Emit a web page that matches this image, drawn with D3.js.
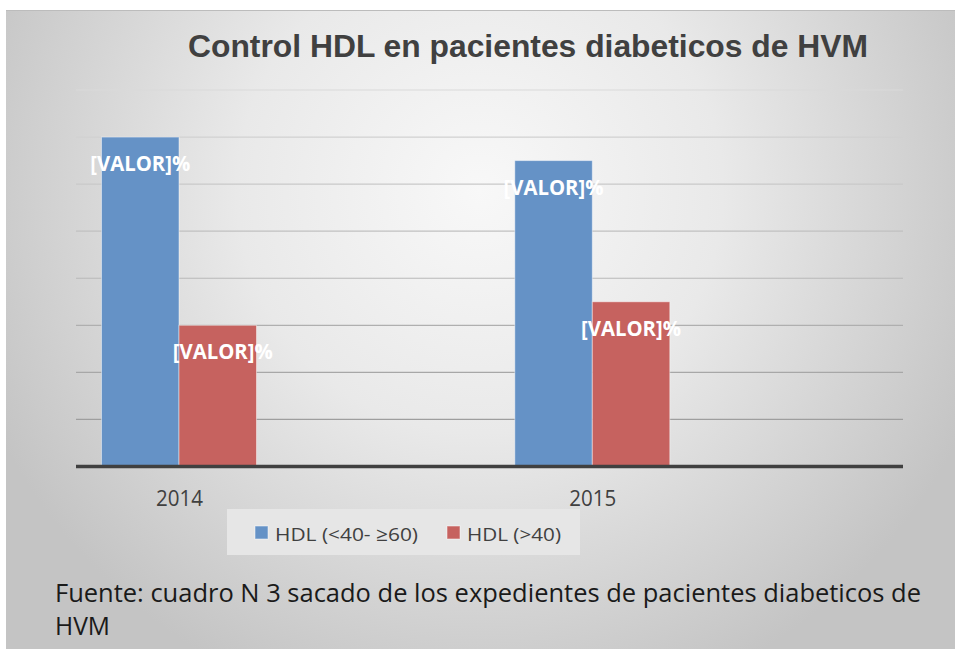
<!DOCTYPE html>
<html>
<head>
<meta charset="utf-8">
<script src="https://cdn.jsdelivr.net/npm/d3@7"></script>
<style>
  body { margin: 0; background: #fff; }
  svg { display: block; }
</style>
</head>
<body>
<svg id="chart" width="955" height="659"></svg>
<script>
// data
const years = ["2014", "2015"];
const seriesNames = ["HDL (<40- ≥60)", "HDL (>40)"];
const hdlLowHigh = [70, 65];
const hdlOver40 = [30, 35];
const yTicks = [0, 10, 20, 30, 40, 50, 60, 70, 80];
const labelText = "[VALOR]%";
const titleText = "Control HDL en pacientes diabeticos de HVM";
const footerLines = [
  "Fuente: cuadro N 3 sacado de los expedientes de pacientes diabeticos de",
  "HVM"
];

const colors = ["#6592c6", "#c6625f"];
const sans = "'Open Sans', 'DejaVu Sans', sans-serif";

const svg = d3.select("#chart");

// background frame with soft radial gradient
const defs = svg.append("defs");
const grad = defs.append("radialGradient")
  .attr("id", "bg")
  .attr("gradientUnits", "userSpaceOnUse")
  .attr("cx", 480).attr("cy", 190).attr("r", 540);
grad.append("stop").attr("offset", 0).attr("stop-color", "#f8f8f8");
grad.append("stop").attr("offset", 0.45).attr("stop-color", "#e9e9e9");
grad.append("stop").attr("offset", 1).attr("stop-color", "#c4c4c4");

svg.append("rect")
  .attr("x", 6).attr("y", 10)
  .attr("width", 949).attr("height", 639)
  .attr("fill", "url(#bg)");
svg.append("line")
  .attr("x1", 6).attr("x2", 955).attr("y1", 10.5).attr("y2", 10.5)
  .attr("stroke", "#bcbcbc");

// scales
const plotLeft = 76, plotRight = 903;
const y = d3.scaleLinear().domain([0, 80]).range([466.5, 90]);
const x = d3.scalePoint().domain(years).range([179, 592.3]);
const xs = d3.scaleBand().domain(seriesNames).range([-77.5, 77.5]);

// gridlines, getting darker toward the bottom
const gridColor = d3.scaleLinear().domain([80, 10]).range(["#dadada", "#9e9e9e"]);
svg.append("g")
  .selectAll("line")
  .data(yTicks.filter(d => d > 0))
  .join("line")
  .attr("x1", plotLeft).attr("x2", plotRight)
  .attr("y1", d => y(d)).attr("y2", d => y(d))
  .attr("stroke", d => gridColor(d))
  .attr("stroke-width", 1.2);

// bars
const rows = [];
years.forEach((yr, i) => {
  rows.push({ year: yr, series: seriesNames[0], value: hdlLowHigh[i], c: colors[0] });
  rows.push({ year: yr, series: seriesNames[1], value: hdlOver40[i], c: colors[1] });
});

svg.append("g")
  .selectAll("rect")
  .data(rows)
  .join("rect")
  .attr("x", d => x(d.year) + xs(d.series))
  .attr("y", d => y(d.value))
  .attr("width", xs.bandwidth())
  .attr("height", d => y(0) - y(d.value))
  .attr("fill", d => d.c)
  .attr("stroke", "rgba(255,255,255,0.45)")
  .attr("stroke-width", 1);

// axis line
const xAxis = d3.axisBottom(x).tickSize(0).tickPadding(0);
const gx = svg.append("g")
  .attr("transform", `translate(0,${y(0)})`)
  .call(xAxis);
gx.select(".domain").remove();
gx.append("line")
  .attr("x1", plotLeft).attr("x2", plotRight)
  .attr("stroke", "#404040").attr("stroke-width", 3.5);
gx.selectAll(".tick text")
  .attr("y", 39)
  .attr("dy", 0)
  .attr("font-family", sans)
  .attr("font-size", 21)
  .attr("fill", "#404040")
  .attr("textLength", 47)
  .attr("lengthAdjust", "spacingAndGlyphs");

// data labels
svg.append("g")
  .selectAll("text")
  .data(rows)
  .join("text")
  .attr("x", d => x(d.year) + xs(d.series) + xs.bandwidth() / 2 + (d.series === seriesNames[1] && d.year === "2014" ? 5 : 0))
  .attr("y", d => y(d.value) + 34)
  .attr("text-anchor", "middle")
  .attr("font-family", sans)
  .attr("font-weight", "bold")
  .attr("font-size", 21)
  .attr("fill", "#ffffff")
  .attr("textLength", 100)
  .attr("lengthAdjust", "spacingAndGlyphs")
  .text(labelText);

// title
svg.append("text")
  .attr("x", 188).attr("y", 57)
  .attr("font-family", "'Liberation Sans', Arial, sans-serif")
  .attr("font-weight", "bold")
  .attr("font-size", 31)
  .attr("fill", "#404040")
  .attr("textLength", 680)
  .attr("lengthAdjust", "spacingAndGlyphs")
  .text(titleText);

// legend
const legend = svg.append("g");
legend.append("rect")
  .attr("x", 227).attr("y", 509)
  .attr("width", 353).attr("height", 46)
  .attr("fill", "#e6e6e6");
const legendX = [255, 447];
const legendW = [143, 94];
seriesNames.forEach((s, i) => {
  legend.append("rect")
    .attr("x", legendX[i]).attr("y", 526)
    .attr("width", 13).attr("height", 13)
    .attr("fill", colors[i])
    .attr("stroke", "rgba(255,255,255,0.5)");
  legend.append("text")
    .attr("x", legendX[i] + 20).attr("y", 541)
    .attr("font-family", sans)
    .attr("font-size", 19)
    .attr("fill", "#404040")
    .attr("textLength", legendW[i])
    .attr("lengthAdjust", "spacingAndGlyphs")
    .text(s);
});

// footer note
svg.append("g")
  .selectAll("text")
  .data(footerLines)
  .join("text")
  .attr("x", 55)
  .attr("y", (d, i) => 602 + i * 33)
  .attr("font-family", sans)
  .attr("font-size", 26)
  .attr("fill", "#1a1a1a")
  .attr("textLength", (d, i) => i === 0 ? 866 : 55)
  .attr("lengthAdjust", "spacingAndGlyphs")
  .text(d => d);
</script>
</body>
</html>
